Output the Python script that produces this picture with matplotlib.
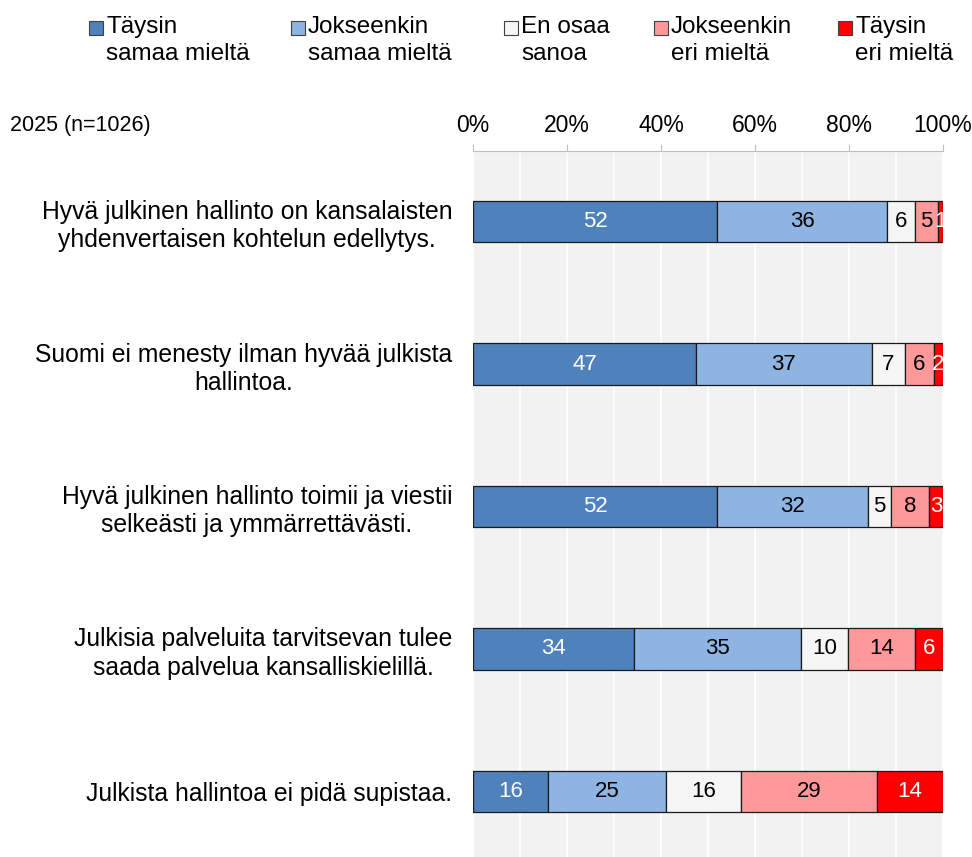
import numpy as np
import matplotlib
matplotlib.use("Agg")
import matplotlib.pyplot as plt

plt.rcParams['font.family'] = ['Liberation Sans', 'DejaVu Sans']

vaitteet = [
    "Hyvä julkinen hallinto on kansalaisten\nyhdenvertaisen kohtelun edellytys.",
    "Suomi ei menesty ilman hyvää julkista\nhallintoa.",
    "Hyvä julkinen hallinto toimii ja viestii\nselkeästi ja ymmärrettävästi.",
    "Julkisia palveluita tarvitsevan tulee\nsaada palvelua kansalliskielillä.",
    "Julkista hallintoa ei pidä supistaa.",
]
vastaukset = ["Täysin\nsamaa mieltä", "Jokseenkin\nsamaa mieltä", "En osaa\nsanoa",
              "Jokseenkin\neri mieltä", "Täysin\neri mieltä"]

taysin_samaa = [52, 47, 52, 34, 16]
jokseenkin_samaa = [36, 37, 32, 35, 25]
en_osaa = [6, 7, 5, 10, 16]
jokseenkin_eri = [5, 6, 8, 14, 29]
taysin_eri = [1, 2, 3, 6, 14]

varit = ["#4F81BD", "#8EB4E3", "#F5F5F5", "#FF9999", "#FF0000"]
tekstivarit = ["white", "black", "black", "black", "white"]

data = np.array([taysin_samaa, jokseenkin_samaa, en_osaa, jokseenkin_eri, taysin_eri], dtype=float)
# rounded values don't always sum to 100, scale bars to full width
leveydet = data / data.sum(axis=0) * 100

fig = plt.figure(figsize=(9.72, 8.57), dpi=100)
ax = fig.add_axes([473 / 972, 0, 470 / 972, 706 / 857])
ax.set_facecolor("#F2F2F2")

y = np.arange(len(vaitteet))
vasen = np.zeros(len(vaitteet))
for i in range(len(vastaukset)):
    ax.barh(y, leveydet[i], left=vasen, height=0.29, color=varit[i],
            edgecolor="#1a1a1a", linewidth=0.9, zorder=3)
    for j in range(len(vaitteet)):
        ax.text(vasen[j] + leveydet[i][j] / 2, y[j], "%d" % data[i][j],
                ha="center", va="center", fontsize=16, color=tekstivarit[i], zorder=4)
    vasen = vasen + leveydet[i]

ax.set_xlim(0, 100)
ax.set_ylim(4.46, -0.495)
ax.xaxis.tick_top()
ax.set_xticks(np.arange(0, 101, 20))
ax.set_xticklabels(["%d%%" % v for v in range(0, 101, 20)], fontsize=16.5)
ax.set_xticks(np.arange(0, 101, 10), minor=True)
ax.tick_params(axis="x", which="major", length=5, color="#BFBFBF", pad=5)
ax.tick_params(axis="x", which="minor", length=0)
ax.grid(axis="x", which="both", color="white", linewidth=1.2, zorder=0)
ax.set_axisbelow(True)

ax.set_yticks(y)
ax.set_yticklabels(vaitteet, fontsize=17.8, multialignment="center", linespacing=1.22)
ax.tick_params(axis="y", length=0, pad=15)

for s in ["left", "right", "bottom"]:
    ax.spines[s].set_visible(False)
ax.spines["top"].set_color("#BFBFBF")

fig.text(10 / 972, 1 - 125 / 857, "2025 (n=1026)", fontsize=15.5, va="center", ha="left")

# legend drawn by hand so the square sits on the first line
leg_x = [89, 291, 504, 654, 838]
for i, nimi in enumerate(vastaukset):
    fig.patches.append(plt.Rectangle((leg_x[i] / 972, 1 - 35 / 857), 14 / 972, 14 / 857,
                                     transform=fig.transFigure, facecolor=varit[i],
                                     edgecolor="#404040", linewidth=0.8))
    fig.text((leg_x[i] + 17) / 972, 1 - 16 / 857, nimi, fontsize=17.5, va="top", ha="left",
             linespacing=1.3)

fig.savefig("out.png", dpi=100)
